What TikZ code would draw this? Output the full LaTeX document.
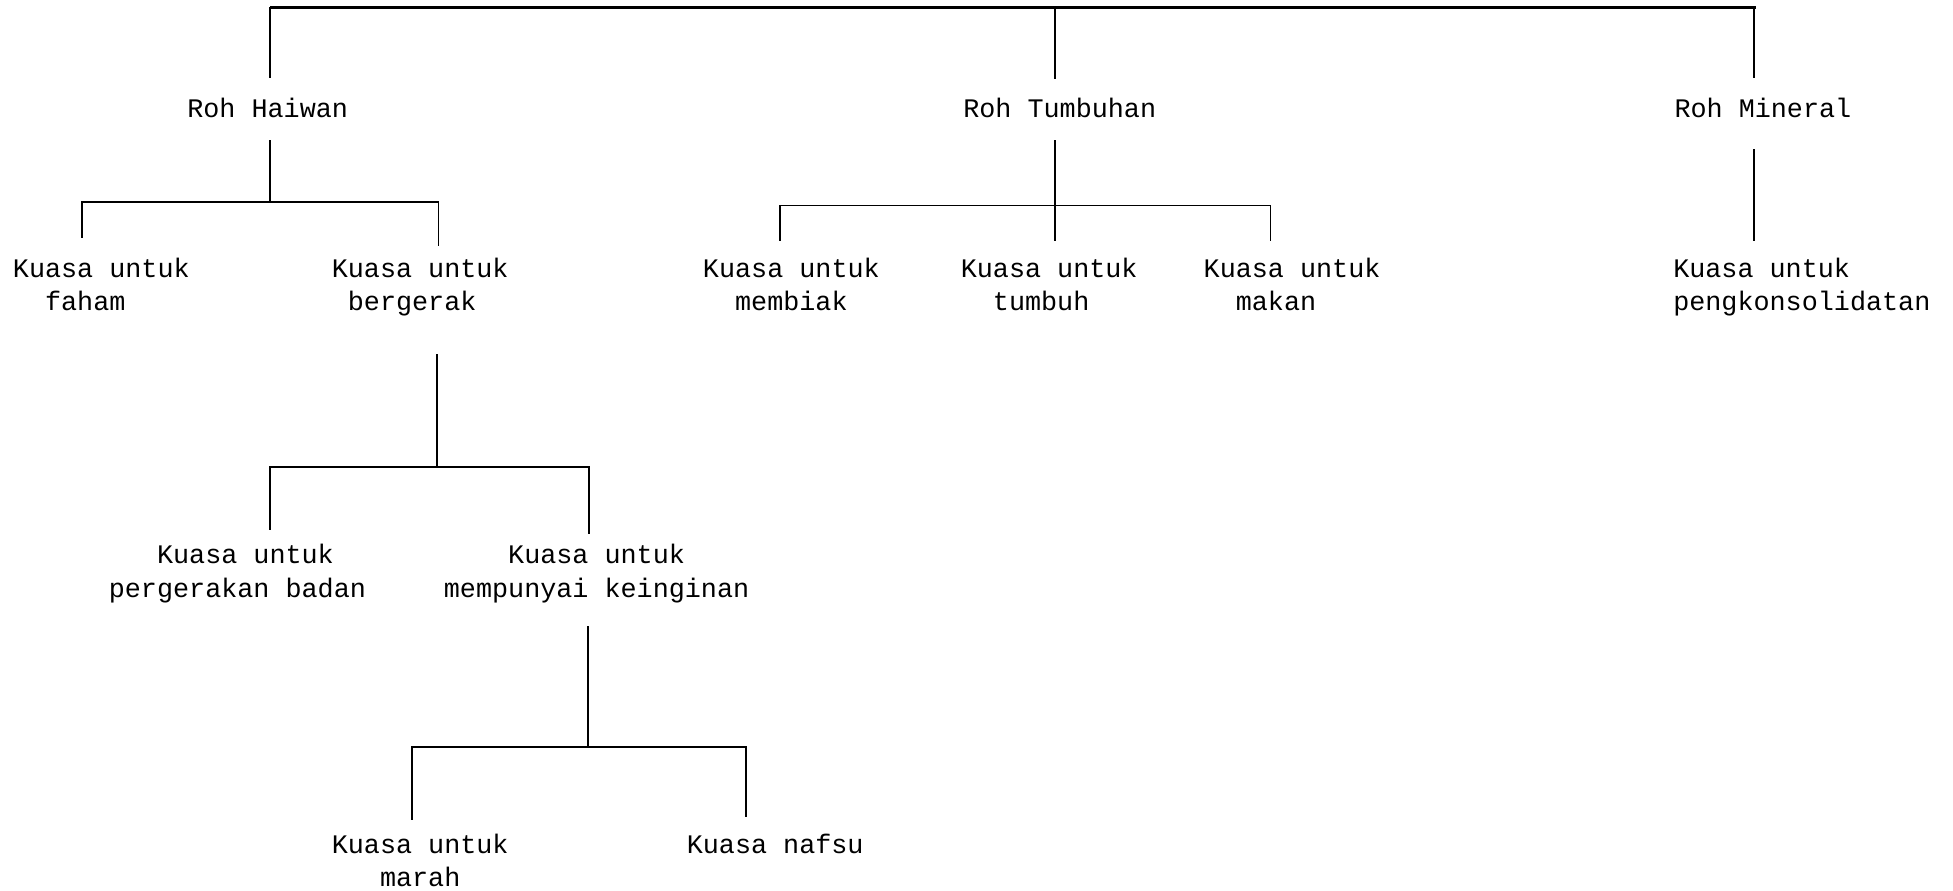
\documentclass[tikz,border=0pt]{standalone}
\usepackage{fontspec}
\setmonofont{Liberation Mono}
\begin{document}
\begin{tikzpicture}[x=0.5pt,y=-0.5pt,
  lbl/.style={font=\ttfamily\fontsize{10.75}{13.5}\selectfont, inner sep=0pt, anchor=west, align=left, yshift=-1pt},
  ln/.style={line width=0.7pt, line cap=rect},
  topln/.style={line width=1.1pt}]
\useasboundingbox (0,0) rectangle (1568,715);
% labels
\node[lbl] (rh) at (150,87) {Roh Haiwan\strut};
\node[lbl] (rt) at (773,87) {Roh Tumbuhan\strut};
\node[lbl] (rm) at (1344,87) {Roh Mineral\strut};
\node[lbl] (kf) at (10,228.5) {Kuasa untuk\strut\\\hphantom{xx}faham\strut};
\node[lbl] (kb) at (266,228.5) {Kuasa untuk\strut\\\hphantom{x}bergerak\strut};
\node[lbl] (kmb) at (564,228.5) {Kuasa untuk\strut\\\hphantom{xx}membiak\strut};
\node[lbl] (ktb) at (771,228.5) {Kuasa untuk\strut\\\hphantom{xx}tumbuh\strut};
\node[lbl] (kmk) at (966,228.5) {Kuasa untuk\strut\\\hphantom{xx}makan\strut};
\node[lbl] (kp) at (1343,228.5) {Kuasa untuk\strut\\pengkonsolidatan\strut};
\node[lbl] (kpb) at (87,458.5) {\hphantom{xxx}Kuasa untuk\strut\\pergerakan badan\strut};
\node[lbl] (kk) at (356,458.5) {\hphantom{xxxx}Kuasa untuk\strut\\mempunyai keinginan\strut};
\node[lbl] (km) at (266,691) {Kuasa untuk\strut\\\hphantom{xxx}marah\strut};
\node[lbl] (kn) at (551,678) {Kuasa nafsu\strut};
% junction coordinates
\coordinate (tl) at (217,6);
\coordinate (tm) at (847,6);
\coordinate (tr) at (1410,6);
\coordinate (trl) at (1408,6);
\coordinate (rhUp) at (217,62);
\coordinate (rtUp) at (847,63);
\coordinate (rmUp) at (1408,62);
% Haiwan
\coordinate (rhDn) at (217,113);
\coordinate (hJ) at (217,162);
\coordinate (hL) at (66,162);
\coordinate (hR) at (352,162);
\coordinate (kfUp) at (66,190);
\coordinate (kbUp) at (352,197);
% bergerak
\coordinate (kbDn) at (351,285);
\coordinate (bJ) at (351,375);
\coordinate (bL) at (217,375);
\coordinate (bR) at (473,375);
\coordinate (kpbUp) at (217,425);
\coordinate (kkUp) at (473,428);
% keinginan
\coordinate (kkDn) at (472,503);
\coordinate (kJ) at (472,600);
\coordinate (kL) at (331,600);
\coordinate (kR) at (599,600);
\coordinate (kmUp) at (331,658);
\coordinate (knUp) at (599,655);
% Tumbuhan
\coordinate (rtDn) at (847,113);
\coordinate (tJ) at (847,165);
\coordinate (tL) at (626,165);
\coordinate (tR) at (1020,165);
\coordinate (kmbUp) at (626,193);
\coordinate (ktbUp) at (847,193);
\coordinate (kmkUp) at (1020,193);
% Mineral
\coordinate (rmDn) at (1408,120);
\coordinate (kpUp) at (1408,193);
% connectors
\draw[topln] (tl) -- (tr);
\draw[ln] (tl) -- (rhUp);
\draw[ln] (tm) -- (rtUp);
\draw[ln] (trl) -- (rmUp);
\draw[ln] (rhDn) -- (hJ);
\draw[ln] (kfUp) -- (hL) -- (hR) -- (kbUp);
\draw[ln] (kbDn) -- (bJ);
\draw[ln] (kpbUp) -- (bL) -- (bR) -- (kkUp);
\draw[ln] (kkDn) -- (kJ);
\draw[ln] (kmUp) -- (kL) -- (kR) -- (knUp);
\draw[ln] (rtDn) -- (ktbUp);
\draw[ln] (kmbUp) -- (tL) -- (tR) -- (kmkUp);
\draw[ln] (rmDn) -- (kpUp);
\end{tikzpicture}
\end{document}
